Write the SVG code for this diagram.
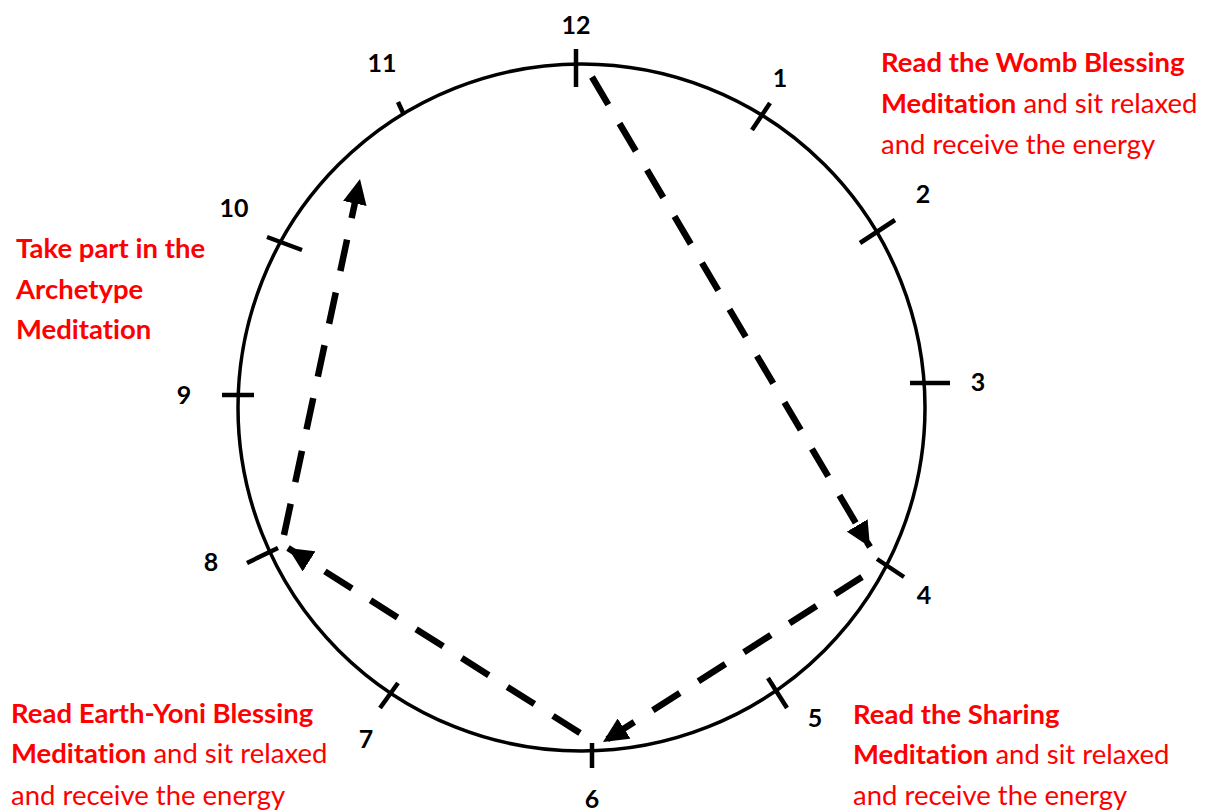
<svg xmlns="http://www.w3.org/2000/svg" width="1211" height="812" viewBox="0 0 1211 812">
<style>
.ring{fill:none;stroke:#000;stroke-width:3.5}
.tick{stroke:#000;stroke-width:4.5;fill:none}
.num{font-family:Lato,"Liberation Sans",sans-serif;font-weight:bold;font-size:25px;fill:#000;text-anchor:middle}
.lbl{font-family:Lato,"Liberation Sans",sans-serif;font-size:27.5px;fill:#ff0000;font-variant-ligatures:none;font-feature-settings:"liga" 0,"dlig" 0}
.b{font-weight:bold}
.dash{fill:none;stroke:#000;stroke-width:6.5;stroke-dasharray:32 22;marker-end:url(#ah)}
</style>
<defs>
<marker id="ah" markerUnits="userSpaceOnUse" viewBox="0 0 25 24" refX="25" refY="12" markerWidth="25" markerHeight="24" orient="auto">
<polygon points="0,0 25,12 0,24" fill="#000"/>
</marker>
</defs>
<rect width="1211" height="812" fill="#fff"/>
<g id="clock">
<circle class="ring" cx="581.5" cy="407.5" r="343.5"/>
<g id="ticks">
<line class="tick" x1="576" y1="49" x2="576" y2="87"/>
<line class="tick" x1="752" y1="130" x2="770" y2="103"/>
<line class="tick" x1="860" y1="243" x2="895" y2="220"/>
<line class="tick" x1="910" y1="383" x2="950" y2="383"/>
<line class="tick" x1="877" y1="559" x2="904" y2="577"/>
<line class="tick" x1="768" y1="678" x2="787" y2="708"/>
<line class="tick" x1="592" y1="743" x2="592" y2="768"/>
<line class="tick" x1="380" y1="708" x2="398" y2="683"/>
<line class="tick" x1="247" y1="563" x2="278" y2="548"/>
<line class="tick" x1="222" y1="395" x2="254" y2="395"/>
<line class="tick" x1="267" y1="237" x2="302" y2="250"/>
<line class="tick" x1="398" y1="102" x2="404" y2="115"/>
</g>
</g>
<g id="numbers">
<text class="num" x="576" y="34">12</text>
<text class="num" x="780" y="87">1</text>
<text class="num" x="923" y="203">2</text>
<text class="num" x="978" y="391">3</text>
<text class="num" x="924" y="604">4</text>
<text class="num" x="815" y="727">5</text>
<text class="num" x="592" y="808">6</text>
<text class="num" x="366" y="748">7</text>
<text class="num" x="211" y="571">8</text>
<text class="num" x="184" y="404">9</text>
<text class="num" x="234" y="217">10</text>
<text class="num" x="382" y="72">11</text>
</g>
<g id="connectors">
<line class="dash" x1="592" y1="77" x2="870" y2="547"/>
<line class="dash" x1="862" y1="577" x2="603" y2="742"/>
<line class="dash" x1="580" y1="733" x2="288" y2="548"/>
<line class="dash" x1="284" y1="535" x2="360" y2="179"/>
</g>
<g id="label-womb">
<text class="lbl" x="881" y="72"><tspan class="b">Read the Womb Blessing</tspan></text>
<text class="lbl" x="881" y="113"><tspan class="b">Meditation</tspan> and sit relaxed</text>
<text class="lbl" x="881" y="154">and receive the energy</text>
</g>
<g id="label-archetype">
<text class="lbl b" x="16" y="258">Take part in the</text>
<text class="lbl b" x="16" y="299">Archetype</text>
<text class="lbl b" x="16" y="339">Meditation</text>
</g>
<g id="label-earth">
<text class="lbl" x="11" y="723"><tspan class="b">Read Earth-Yoni Blessing</tspan></text>
<text class="lbl" x="11" y="763"><tspan class="b">Meditation</tspan> and sit relaxed</text>
<text class="lbl" x="11" y="805">and receive the energy</text>
</g>
<g id="label-sharing">
<text class="lbl" x="853" y="724"><tspan class="b">Read the Sharing</tspan></text>
<text class="lbl" x="853" y="764"><tspan class="b">Meditation</tspan> and sit relaxed</text>
<text class="lbl" x="853" y="805">and receive the energy</text>
</g>
</svg>
